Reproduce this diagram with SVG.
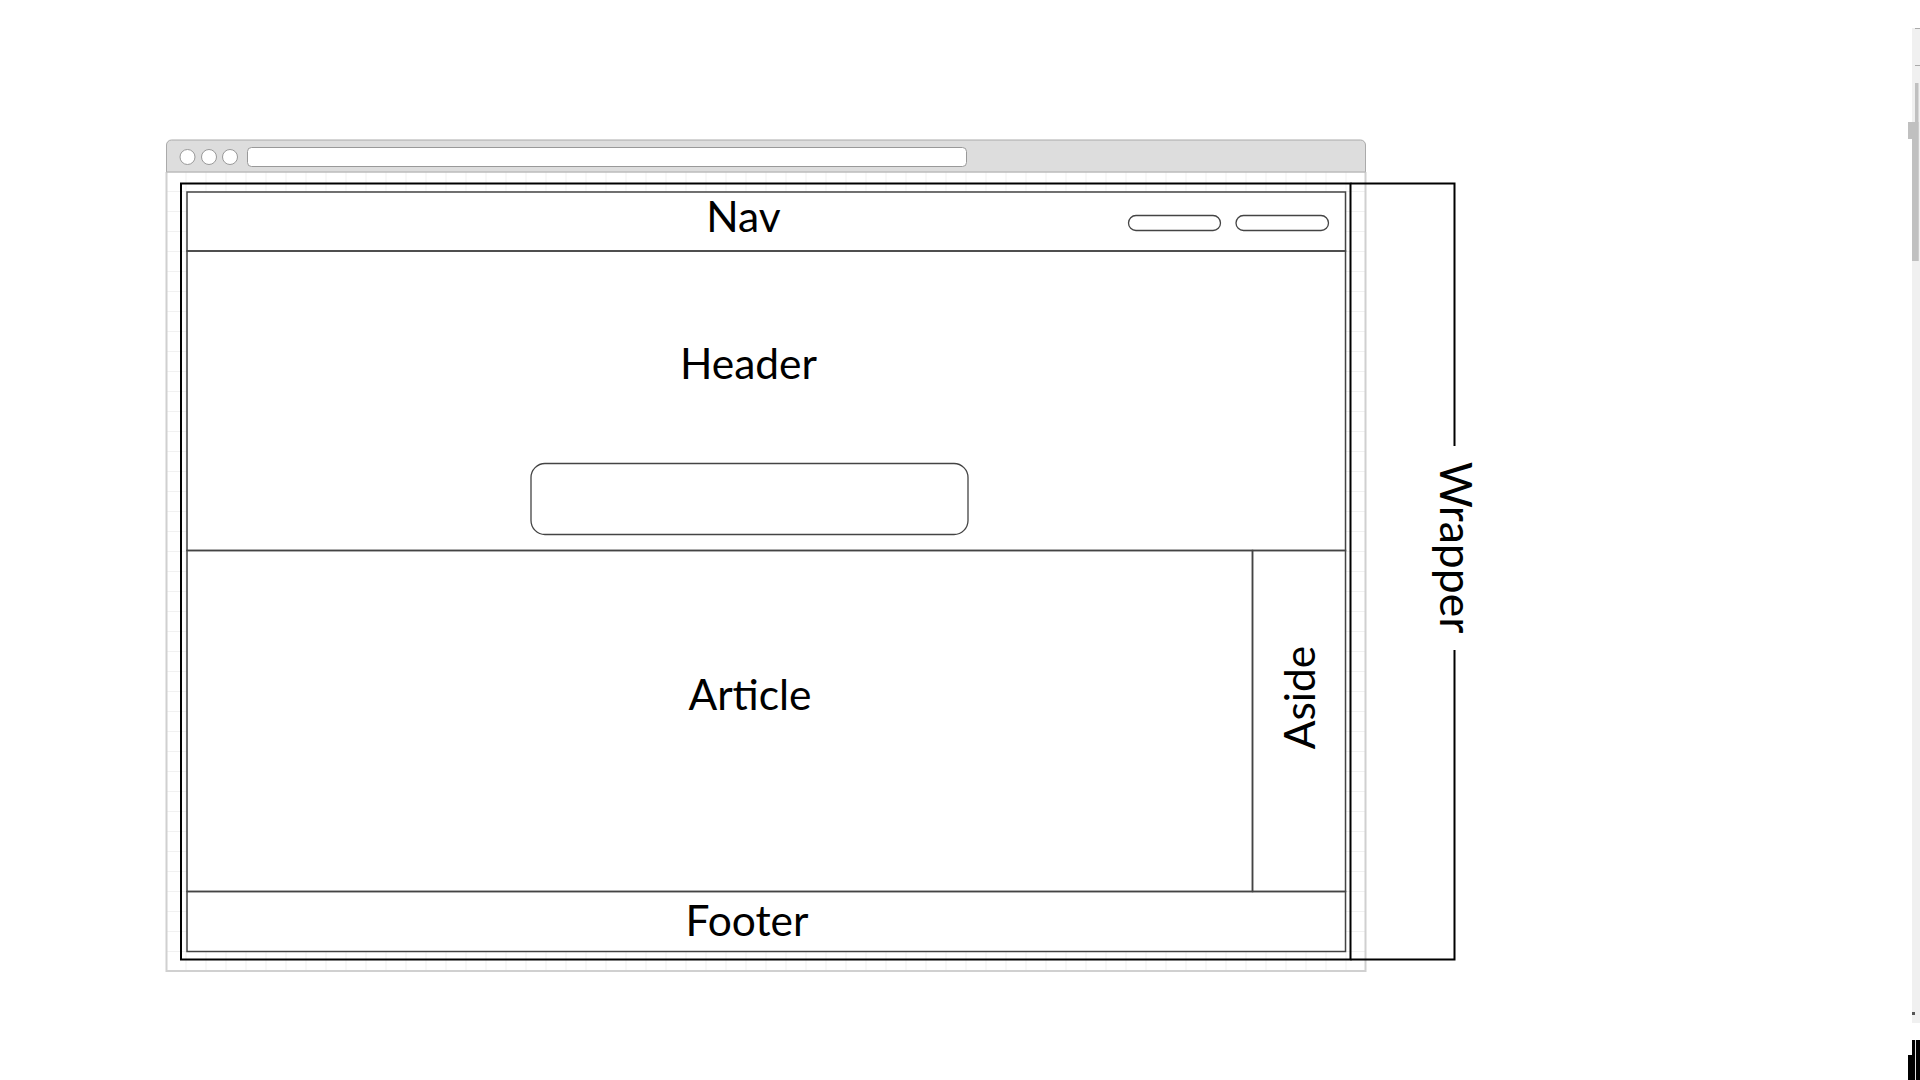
<svg xmlns="http://www.w3.org/2000/svg" width="1920" height="1080" viewBox="0 0 1920 1080">
  <defs>
    <style>
      .label { font-family: Lato, "Open Sans", "Liberation Sans", sans-serif; font-size: 42.5px; fill: #000; text-anchor: middle; }
      .region { fill: none; stroke: #444; stroke-width: 1.5; }
      .wrap { fill: none; stroke: #000; stroke-width: 2; }
      .pill { fill: #fff; stroke: #444; stroke-width: 1.3; }
      .dot { fill: #fff; stroke: #999; stroke-width: 1; }
    </style>
    <pattern id="grid" x="166.5" y="172" width="20" height="20" patternUnits="userSpaceOnUse">
      <path d="M20 0 V20 M0 20 H20" fill="none" stroke="#e2e2e2" stroke-width="1"/>
    </pattern>
  </defs>

  <rect width="1920" height="1080" fill="#fff"/>

  <!-- browser window -->
  <g id="browser">
    <rect x="166.5" y="172" width="1199" height="799" fill="#fff"/>
    <rect x="166.5" y="172" width="1199" height="799" fill="url(#grid)"/>
    <path d="M166.5 172 V971 H1365.5 V172" fill="none" stroke="#d0d0d0" stroke-width="2"/>
    <path d="M166.5 172 V145 a5 5 0 0 1 5 -5 H1360.5 a5 5 0 0 1 5 5 V172 Z" fill="#dddddd" stroke="#aaa" stroke-width="1"/>
    <line x1="166.5" y1="172" x2="1365.5" y2="172" stroke="#c4c4c4" stroke-width="1"/>
    <circle class="dot" cx="187.5" cy="157" r="7.5"/>
    <circle class="dot" cx="209" cy="157" r="7.5"/>
    <circle class="dot" cx="230" cy="157" r="7.5"/>
    <rect x="247.5" y="147.5" width="719" height="19" rx="4" fill="#fff" stroke="#999" stroke-width="1"/>
  </g>

  <!-- page body -->
  <rect x="187" y="192" width="1158.5" height="759.5" fill="#fff"/>

  <g id="nav">
    <rect class="region" x="187" y="192" width="1158.5" height="59"/>
    <text class="label" x="743.5" y="231.5">Nav</text>
    <rect class="pill" x="1128.5" y="215.5" width="92" height="15" rx="7.5"/>
    <rect class="pill" x="1236" y="215.5" width="92.5" height="15" rx="7.5"/>
  </g>

  <g id="header">
    <rect class="region" x="187" y="251" width="1158.5" height="299.5"/>
    <text class="label" x="748.5" y="378.5">Header</text>
    <rect class="pill" x="531" y="463.5" width="437" height="71" rx="14"/>
  </g>

  <g id="article">
    <rect class="region" x="187" y="550.5" width="1065.5" height="341"/>
    <text class="label" x="750" y="710">Article</text>
  </g>

  <g id="aside">
    <rect class="region" x="1252.5" y="550.5" width="93" height="341"/>
    <text class="label" x="1300" y="697.5" transform="rotate(-90 1300 697.5) translate(0 15)">Aside</text>
  </g>

  <g id="footer">
    <rect class="region" x="187" y="891.5" width="1158.5" height="60"/>
    <text class="label" x="747" y="935.5">Footer</text>
  </g>

  <g id="wrapper">
    <rect class="wrap" x="181" y="183.5" width="1169.5" height="776"/>
    <path class="wrap" d="M1350.5 183.5 H1454.5 V446 M1454.5 650 V959.5 H1350.5"/>
    <text class="label" x="1455" y="547.5" style="font-size:44.5px" transform="rotate(90 1455 547.5) translate(0 15)">Wrapper</text>
  </g>

  <!-- window scrollbar edge -->
  <g id="scrollbar">
    <rect x="1912" y="28" width="8" height="995" fill="#f0f0f0"/>
    <line x1="1915" y1="28.5" x2="1920" y2="28.5" stroke="#aaa"/>
    <line x1="1915" y1="65.5" x2="1920" y2="65.5" stroke="#aaa"/>
    <rect x="1915" y="83" width="3.5" height="178" fill="#c0c0c0"/>
    <rect x="1912" y="139" width="6.5" height="122" fill="#c0c0c0"/>
    <rect x="1908" y="122" width="10.5" height="17" fill="#c0c0c0"/>
    <rect x="1912" y="1012" width="3" height="3" fill="#555"/>
    <rect x="1912" y="1040" width="8" height="40" fill="#000"/>
    <rect x="1908" y="1055" width="4" height="25" fill="#000"/>
    <line x1="1915.5" y1="1040" x2="1915.5" y2="1080" stroke="#ddd" stroke-width="1"/>
  </g>
</svg>
